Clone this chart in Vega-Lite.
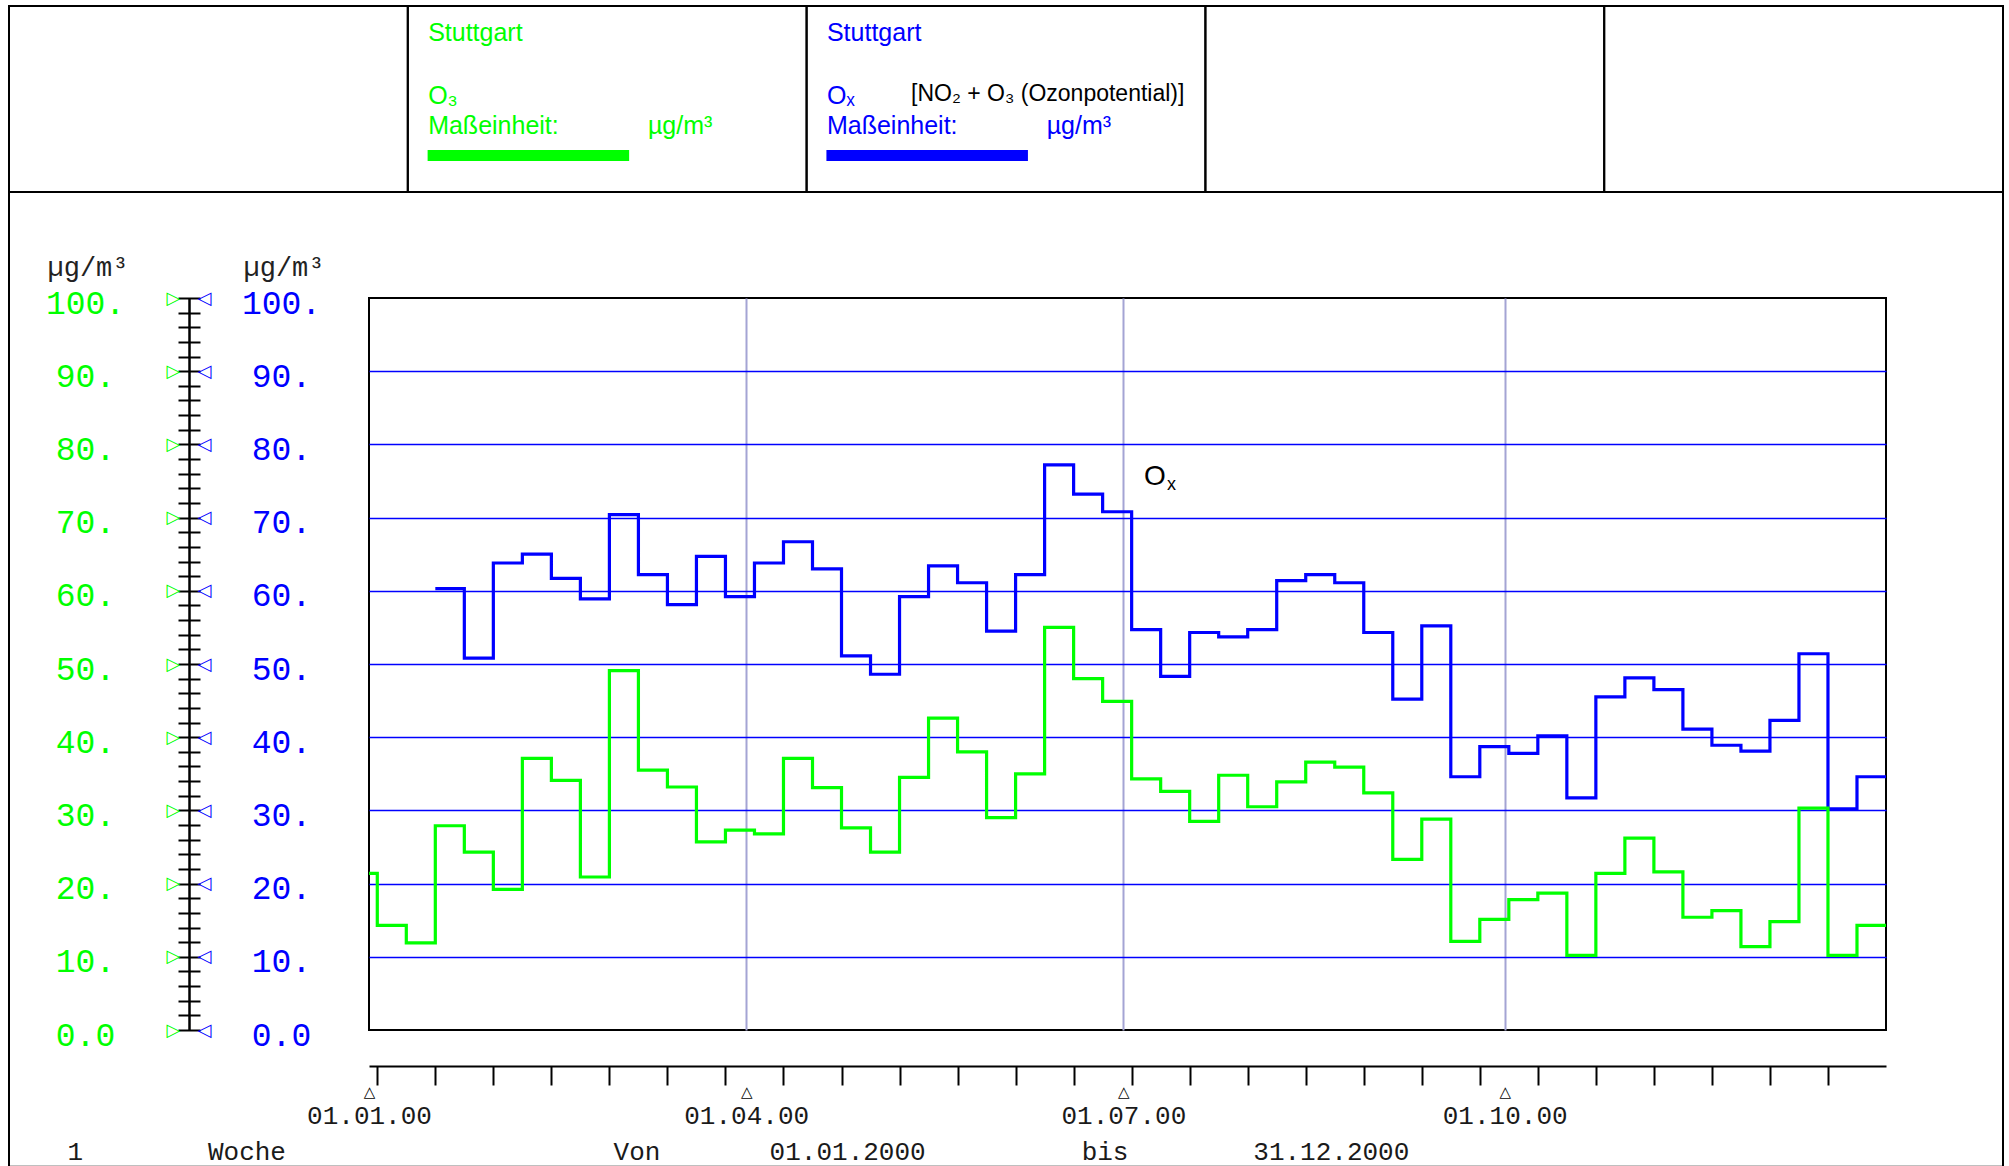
{
  "$schema": "https://vega.github.io/schema/vega-lite/v6.json",
  "width": 1517,
  "height": 732,
  "autosize": {"type": "none"},
  "padding": {"left": 369, "top": 298, "right": 123, "bottom": 136},
  "background": "white",
  "config": {
    "view": {"stroke": "#000000", "strokeWidth": 2},
    "axis": {"grid": false, "labelFlush": false, "labelOverlap": false, "labelBound": false, "domain": false, "ticks": false}
  },
  "datasets": {
    "weekly": [
      {"week": "2000-01-01", "O3": 21.4, "Ox": null},
      {"week": "2000-01-03", "O3": 14.3, "Ox": null},
      {"week": "2000-01-10", "O3": 11.9, "Ox": null},
      {"week": "2000-01-17", "O3": 27.9, "Ox": 60.3},
      {"week": "2000-01-24", "O3": 24.3, "Ox": 50.8},
      {"week": "2000-01-31", "O3": 19.2, "Ox": 63.8},
      {"week": "2000-02-07", "O3": 37.1, "Ox": 65.0},
      {"week": "2000-02-14", "O3": 34.1, "Ox": 61.7},
      {"week": "2000-02-21", "O3": 20.9, "Ox": 58.9},
      {"week": "2000-02-28", "O3": 49.1, "Ox": 70.4},
      {"week": "2000-03-06", "O3": 35.5, "Ox": 62.2},
      {"week": "2000-03-13", "O3": 33.2, "Ox": 58.1},
      {"week": "2000-03-20", "O3": 25.7, "Ox": 64.7},
      {"week": "2000-03-27", "O3": 27.3, "Ox": 59.2},
      {"week": "2000-04-03", "O3": 26.8, "Ox": 63.8},
      {"week": "2000-04-10", "O3": 37.1, "Ox": 66.7},
      {"week": "2000-04-17", "O3": 33.1, "Ox": 63.0},
      {"week": "2000-04-24", "O3": 27.6, "Ox": 51.1},
      {"week": "2000-05-01", "O3": 24.3, "Ox": 48.6},
      {"week": "2000-05-08", "O3": 34.5, "Ox": 59.2},
      {"week": "2000-05-15", "O3": 42.6, "Ox": 63.4},
      {"week": "2000-05-22", "O3": 38.0, "Ox": 61.1},
      {"week": "2000-05-29", "O3": 29.0, "Ox": 54.5},
      {"week": "2000-06-05", "O3": 35.0, "Ox": 62.2},
      {"week": "2000-06-12", "O3": 55.0, "Ox": 77.2},
      {"week": "2000-06-19", "O3": 48.0, "Ox": 73.2},
      {"week": "2000-06-26", "O3": 44.9, "Ox": 70.8},
      {"week": "2000-07-03", "O3": 34.3, "Ox": 54.7},
      {"week": "2000-07-10", "O3": 32.6, "Ox": 48.3},
      {"week": "2000-07-17", "O3": 28.5, "Ox": 54.3},
      {"week": "2000-07-24", "O3": 34.8, "Ox": 53.7},
      {"week": "2000-07-31", "O3": 30.5, "Ox": 54.7},
      {"week": "2000-08-07", "O3": 33.9, "Ox": 61.4},
      {"week": "2000-08-14", "O3": 36.6, "Ox": 62.2},
      {"week": "2000-08-21", "O3": 35.9, "Ox": 61.1},
      {"week": "2000-08-28", "O3": 32.4, "Ox": 54.3},
      {"week": "2000-09-04", "O3": 23.3, "Ox": 45.2},
      {"week": "2000-09-11", "O3": 28.8, "Ox": 55.2},
      {"week": "2000-09-18", "O3": 12.1, "Ox": 34.6},
      {"week": "2000-09-25", "O3": 15.1, "Ox": 38.7},
      {"week": "2000-10-02", "O3": 17.8, "Ox": 37.8},
      {"week": "2000-10-09", "O3": 18.7, "Ox": 40.2},
      {"week": "2000-10-16", "O3": 10.2, "Ox": 31.7},
      {"week": "2000-10-23", "O3": 21.4, "Ox": 45.5},
      {"week": "2000-10-30", "O3": 26.2, "Ox": 48.1},
      {"week": "2000-11-06", "O3": 21.6, "Ox": 46.5},
      {"week": "2000-11-13", "O3": 15.4, "Ox": 41.1},
      {"week": "2000-11-20", "O3": 16.3, "Ox": 38.9},
      {"week": "2000-11-27", "O3": 11.4, "Ox": 38.1},
      {"week": "2000-12-04", "O3": 14.8, "Ox": 42.3},
      {"week": "2000-12-11", "O3": 30.3, "Ox": 51.4},
      {"week": "2000-12-18", "O3": 10.2, "Ox": 30.2},
      {"week": "2000-12-25", "O3": 14.3, "Ox": 34.6},
      {"week": "2001-01-01", "O3": 14.3, "Ox": 34.6}
    ],
    "annotation": [{"date": "2000-07-06", "level": 74.5, "label": "Ox"}],
    "page": [{"first": "c0", "last": "c4"}],
    "cells": [{"cell": "c0"}, {"cell": "c1"}, {"cell": "c2"}, {"cell": "c3"}, {"cell": "c4"}],
    "swatches": [{"cell": "c1", "series": "O3"}, {"cell": "c2", "series": "Ox"}],
    "headerText": [
      {"cell": "c1", "slot": "title", "part": "left", "text": "Stuttgart", "series": "O3"},
      {"cell": "c1", "slot": "species", "part": "left", "text": "O₃", "series": "O3"},
      {"cell": "c1", "slot": "unit", "part": "left", "text": "Maßeinheit:", "series": "O3"},
      {"cell": "c1", "slot": "unit", "part": "right", "text": "µg/m³", "series": "O3"},
      {"cell": "c2", "slot": "title", "part": "left", "text": "Stuttgart", "series": "Ox"},
      {"cell": "c2", "slot": "species", "part": "left", "text": "Oₓ", "series": "Ox"},
      {"cell": "c2", "slot": "species", "part": "mid", "text": "[NO₂ + O₃ (Ozonpotential)]", "series": "note"},
      {"cell": "c2", "slot": "unit", "part": "left", "text": "Maßeinheit:", "series": "Ox"},
      {"cell": "c2", "slot": "unit", "part": "right", "text": "µg/m³", "series": "Ox"}
    ]
  },
  "layer": [
    {
      "layer": [
        {
          "data": {"name": "weekly"},
          "mark": {"type": "line", "interpolate": "step-after", "color": "#0000ff", "strokeWidth": 3.2, "strokeJoin": "miter"},
          "encoding": {
            "x": {
              "field": "week", "type": "temporal",
              "scale": {"type": "utc", "nice": false, "domain": [{"year": 2000, "month": 1, "date": 1, "utc": true}, {"year": 2001, "month": 1, "date": 1, "utc": true}]},
              "axis": {
                "orient": "bottom", "offset": 36, "title": null, "labels": false, "grid": false,
                "domain": true, "domainColor": "#000000", "domainWidth": 2,
                "ticks": true, "tickSize": 19, "tickColor": "#000000", "tickWidth": 2,
                "values": [
                  {"year": 2000, "month": 1, "date": 3, "utc": true},
                  {"year": 2000, "month": 1, "date": 17, "utc": true},
                  {"year": 2000, "month": 1, "date": 31, "utc": true},
                  {"year": 2000, "month": 2, "date": 14, "utc": true},
                  {"year": 2000, "month": 2, "date": 28, "utc": true},
                  {"year": 2000, "month": 3, "date": 13, "utc": true},
                  {"year": 2000, "month": 3, "date": 27, "utc": true},
                  {"year": 2000, "month": 4, "date": 10, "utc": true},
                  {"year": 2000, "month": 4, "date": 24, "utc": true},
                  {"year": 2000, "month": 5, "date": 8, "utc": true},
                  {"year": 2000, "month": 5, "date": 22, "utc": true},
                  {"year": 2000, "month": 6, "date": 5, "utc": true},
                  {"year": 2000, "month": 6, "date": 19, "utc": true},
                  {"year": 2000, "month": 7, "date": 3, "utc": true},
                  {"year": 2000, "month": 7, "date": 17, "utc": true},
                  {"year": 2000, "month": 7, "date": 31, "utc": true},
                  {"year": 2000, "month": 8, "date": 14, "utc": true},
                  {"year": 2000, "month": 8, "date": 28, "utc": true},
                  {"year": 2000, "month": 9, "date": 11, "utc": true},
                  {"year": 2000, "month": 9, "date": 25, "utc": true},
                  {"year": 2000, "month": 10, "date": 9, "utc": true},
                  {"year": 2000, "month": 10, "date": 23, "utc": true},
                  {"year": 2000, "month": 11, "date": 6, "utc": true},
                  {"year": 2000, "month": 11, "date": 20, "utc": true},
                  {"year": 2000, "month": 12, "date": 4, "utc": true},
                  {"year": 2000, "month": 12, "date": 18, "utc": true}
                ]
              }
            },
            "y": {
              "field": "Ox", "type": "quantitative",
              "scale": {"domain": [0, 100], "nice": false},
              "axis": {
                "orient": "left", "offset": 0,
                "values": [0, 10, 20, 30, 40, 50, 60, 70, 80, 90, 100],
                "domain": false, "ticks": false, "tickSize": 0,
                "grid": true, "gridColor": "#0000ff", "gridWidth": 1.6,
                "gridOpacity": {"condition": {"test": "datum.value == 0 || datum.value == 100", "value": 0}, "value": 1},
                "labelExpr": "datum.value == 0 ? '0.0' : datum.value + '.'",
                "labelFont": "Liberation Mono", "labelFontSize": 33, "labelColor": "#0000ff",
                "labelAlign": "center", "labelBaseline": "middle", "labelPadding": 88, "labelOffset": 5,
                "title": "µg/m³", "titleAngle": 0, "titleX": -126, "titleY": -23, "titleAlign": "left", "titleBaseline": "alphabetic",
                "titleFont": "Liberation Mono", "titleFontSize": 27, "titleFontWeight": "normal", "titleColor": "#222222"
              }
            }
          }
        },
        {
          "data": {"name": "weekly"},
          "mark": {"type": "line", "interpolate": "step-after", "color": "#00ff00", "strokeWidth": 3.2, "strokeJoin": "miter"},
          "encoding": {
            "x": {
              "field": "week", "type": "temporal",
              "axis": {
                "orient": "bottom", "offset": 36,
                "values": [
                  {"year": 2000, "month": 1, "date": 1, "utc": true},
                  {"year": 2000, "month": 4, "date": 1, "utc": true},
                  {"year": 2000, "month": 7, "date": 1, "utc": true},
                  {"year": 2000, "month": 10, "date": 1, "utc": true}
                ],
                "domain": false, "ticks": false, "tickSize": 0,
                "labelExpr": "utcFormat(datum.value, '%d.%m.%y')",
                "labelFont": "Liberation Mono", "labelFontSize": 26, "labelColor": "#1a1a1a",
                "labelAlign": "center", "labelBaseline": "middle", "labelPadding": 49,
                "grid": true, "gridColor": "#a4a4d4", "gridWidth": 2,
                "gridOpacity": {"condition": {"test": "utcmonth(datum.value) == 0", "value": 0}, "value": 1},
                "title": "1\u00a0\u00a0\u00a0\u00a0\u00a0\u00a0\u00a0\u00a0Woche\u00a0\u00a0\u00a0\u00a0\u00a0\u00a0\u00a0\u00a0\u00a0\u00a0\u00a0\u00a0\u00a0\u00a0\u00a0\u00a0\u00a0\u00a0\u00a0\u00a0\u00a0Von\u00a0\u00a0\u00a0\u00a0\u00a0\u00a0\u00a001.01.2000\u00a0\u00a0\u00a0\u00a0\u00a0\u00a0\u00a0\u00a0\u00a0\u00a0bis\u00a0\u00a0\u00a0\u00a0\u00a0\u00a0\u00a0\u00a031.12.2000",
                "titleX": -302, "titleY": 93, "titleAlign": "left", "titleBaseline": "alphabetic", "titleAngle": 0,
                "titleFont": "Liberation Mono", "titleFontSize": 26, "titleFontWeight": "normal", "titleColor": "#1a1a1a"
              }
            },
            "y": {
              "field": "O3", "type": "quantitative",
              "axis": {
                "orient": "left", "offset": 180,
                "values": [0, 10, 20, 30, 40, 50, 60, 70, 80, 90, 100],
                "domain": true, "domainColor": "#000000", "domainWidth": 2.5,
                "ticks": false, "tickSize": 0, "grid": false,
                "labelExpr": "datum.value == 0 ? '0.0' : datum.value + '.'",
                "labelFont": "Liberation Mono", "labelFontSize": 33, "labelColor": "#00ff00",
                "labelAlign": "center", "labelBaseline": "middle", "labelPadding": 104, "labelOffset": 5,
                "title": "µg/m³", "titleAngle": 0, "titleX": -142, "titleY": -23, "titleAlign": "left", "titleBaseline": "alphabetic",
                "titleFont": "Liberation Mono", "titleFontSize": 27, "titleFontWeight": "normal", "titleColor": "#222222"
              }
            }
          }
        },
        {
          "data": {"name": "annotation"},
          "mark": {"type": "text", "text": "O", "align": "left", "baseline": "alphabetic", "font": "Liberation Sans", "fontSize": 28, "color": "#000000"},
          "encoding": {
            "x": {
              "field": "date", "type": "temporal",
              "axis": {
                "orient": "bottom", "offset": 36, "title": null,
                "values": [
                  {"year": 2000, "month": 1, "date": 1, "utc": true},
                  {"year": 2000, "month": 4, "date": 1, "utc": true},
                  {"year": 2000, "month": 7, "date": 1, "utc": true},
                  {"year": 2000, "month": 10, "date": 1, "utc": true}
                ],
                "domain": false, "ticks": false, "tickSize": 0, "grid": false,
                "labelExpr": "'△'", "labelFont": "DejaVu Sans", "labelFontSize": 15, "labelFontWeight": "bold", "labelColor": "#000000",
                "labelAlign": "center", "labelBaseline": "middle", "labelPadding": 25
              }
            },
            "y": {
              "field": "level", "type": "quantitative",
              "axis": {
                "orient": "left", "offset": 169, "title": null,
                "values": [0, 2, 4, 6, 8, 10, 12, 14, 16, 18, 20, 22, 24, 26, 28, 30, 32, 34, 36, 38, 40, 42, 44, 46, 48, 50, 52, 54, 56, 58, 60, 62, 64, 66, 68, 70, 72, 74, 76, 78, 80, 82, 84, 86, 88, 90, 92, 94, 96, 98, 100],
                "domain": false, "grid": false,
                "ticks": true, "tickSize": 22, "tickColor": "#000000", "tickWidth": 2,
                "labelExpr": "datum.value % 10 == 0 ? '▷' : ''",
                "labelFont": "DejaVu Sans", "labelFontSize": 18, "labelFontWeight": "bold", "labelColor": "#00ff00",
                "labelAlign": "center", "labelBaseline": "middle", "labelPadding": 5
              }
            }
          }
        },
        {
          "data": {"name": "annotation"},
          "mark": {"type": "text", "text": "x", "align": "left", "baseline": "alphabetic", "dx": 23, "dy": 5, "font": "Liberation Sans", "fontSize": 18, "color": "#000000"},
          "encoding": {
            "x": {"field": "date", "type": "temporal", "axis": null},
            "y": {
              "field": "level", "type": "quantitative",
              "axis": {
                "orient": "left", "offset": 180, "title": null,
                "values": [0, 10, 20, 30, 40, 50, 60, 70, 80, 90, 100],
                "domain": false, "grid": false, "ticks": false, "tickSize": 0,
                "labelExpr": "'◁'",
                "labelFont": "DejaVu Sans", "labelFontSize": 18, "labelFontWeight": "bold", "labelColor": "#0000ff",
                "labelAlign": "center", "labelBaseline": "middle", "labelPadding": -15
              }
            }
          }
        }
      ],
      "resolve": {"axis": {"x": "independent", "y": "independent"}}
    },
    {
      "layer": [
        {
          "data": {"name": "page"},
          "mark": {"type": "rect", "filled": false, "color": "#000000", "strokeWidth": 2},
          "encoding": {
            "x": {"field": "first", "type": "nominal", "bandPosition": 0, "axis": null,
                  "scale": {"type": "band", "domain": ["c0", "c1", "c2", "c3", "c4"], "range": [-360, 1634], "paddingInner": 0, "paddingOuter": 0}},
            "x2": {"field": "last", "bandPosition": 1},
            "y": {"datum": "h", "type": "nominal", "bandPosition": 0, "axis": null,
                  "scale": {"type": "band", "domain": ["h"], "range": [-292, -106], "paddingInner": 0, "paddingOuter": 0}},
            "y2": {"datum": "h", "bandPosition": 6.24}
          }
        },
        {
          "data": {"name": "cells"},
          "mark": {"type": "rect", "filled": false, "color": "#000000", "strokeWidth": 2},
          "encoding": {
            "x": {"field": "cell", "type": "nominal", "axis": null},
            "y": {"datum": "h", "type": "nominal", "axis": null}
          }
        },
        {
          "data": {"name": "swatches"},
          "mark": {"type": "rule", "strokeWidth": 11, "strokeCap": "butt"},
          "encoding": {
            "x": {"field": "cell", "type": "nominal", "bandPosition": 0.0497, "axis": null},
            "x2": {"field": "cell", "bandPosition": 0.555},
            "y": {"datum": "h", "type": "nominal", "bandPosition": 0.804, "axis": null},
            "color": {"field": "series", "type": "nominal", "legend": null,
                      "scale": {"domain": ["O3", "Ox", "note"], "range": ["#00ff00", "#0000ff", "#000000"]}}
          }
        },
        {
          "data": {"name": "headerText"},
          "transform": [{"filter": "datum.part == 'left' && datum.slot == 'title'"}],
          "mark": {"type": "text", "align": "left", "baseline": "alphabetic", "font": "Liberation Sans", "fontSize": 25},
          "encoding": {
            "x": {"field": "cell", "type": "nominal", "bandPosition": 0.051, "axis": null},
            "y": {"datum": "h", "type": "nominal", "bandPosition": 0.188, "axis": null},
            "text": {"field": "text"},
            "color": {"field": "series", "type": "nominal", "legend": null}
          }
        },
        {
          "data": {"name": "headerText"},
          "transform": [{"filter": "datum.part == 'left' && datum.slot == 'species'"}],
          "mark": {"type": "text", "align": "left", "baseline": "alphabetic", "font": "Liberation Sans", "fontSize": 25},
          "encoding": {
            "x": {"field": "cell", "type": "nominal", "bandPosition": 0.051, "axis": null},
            "y": {"datum": "h", "type": "nominal", "bandPosition": 0.527, "axis": null},
            "text": {"field": "text"},
            "color": {"field": "series", "type": "nominal", "legend": null}
          }
        },
        {
          "data": {"name": "headerText"},
          "transform": [{"filter": "datum.part == 'left' && datum.slot == 'unit'"}],
          "mark": {"type": "text", "align": "left", "baseline": "alphabetic", "font": "Liberation Sans", "fontSize": 25},
          "encoding": {
            "x": {"field": "cell", "type": "nominal", "bandPosition": 0.051, "axis": null},
            "y": {"datum": "h", "type": "nominal", "bandPosition": 0.688, "axis": null},
            "text": {"field": "text"},
            "color": {"field": "series", "type": "nominal", "legend": null}
          }
        },
        {
          "data": {"name": "headerText"},
          "transform": [{"filter": "datum.part == 'mid'"}],
          "mark": {"type": "text", "align": "left", "baseline": "alphabetic", "font": "Liberation Sans", "fontSize": 23},
          "encoding": {
            "x": {"field": "cell", "type": "nominal", "bandPosition": 0.262, "axis": null},
            "y": {"datum": "h", "type": "nominal", "bandPosition": 0.511, "axis": null},
            "text": {"field": "text"},
            "color": {"field": "series", "type": "nominal", "legend": null}
          }
        },
        {
          "data": {"name": "headerText"},
          "transform": [{"filter": "datum.part == 'right'"}],
          "mark": {"type": "text", "align": "left", "baseline": "alphabetic", "font": "Liberation Sans", "fontSize": 25},
          "encoding": {
            "x": {"field": "cell", "type": "nominal", "bandPosition": 0.602, "axis": null},
            "y": {"datum": "h", "type": "nominal", "bandPosition": 0.688, "axis": null},
            "text": {"field": "text"},
            "color": {"field": "series", "type": "nominal", "legend": null}
          }
        }
      ]
    }
  ],
  "resolve": {"scale": {"x": "independent", "y": "independent"}}
}
